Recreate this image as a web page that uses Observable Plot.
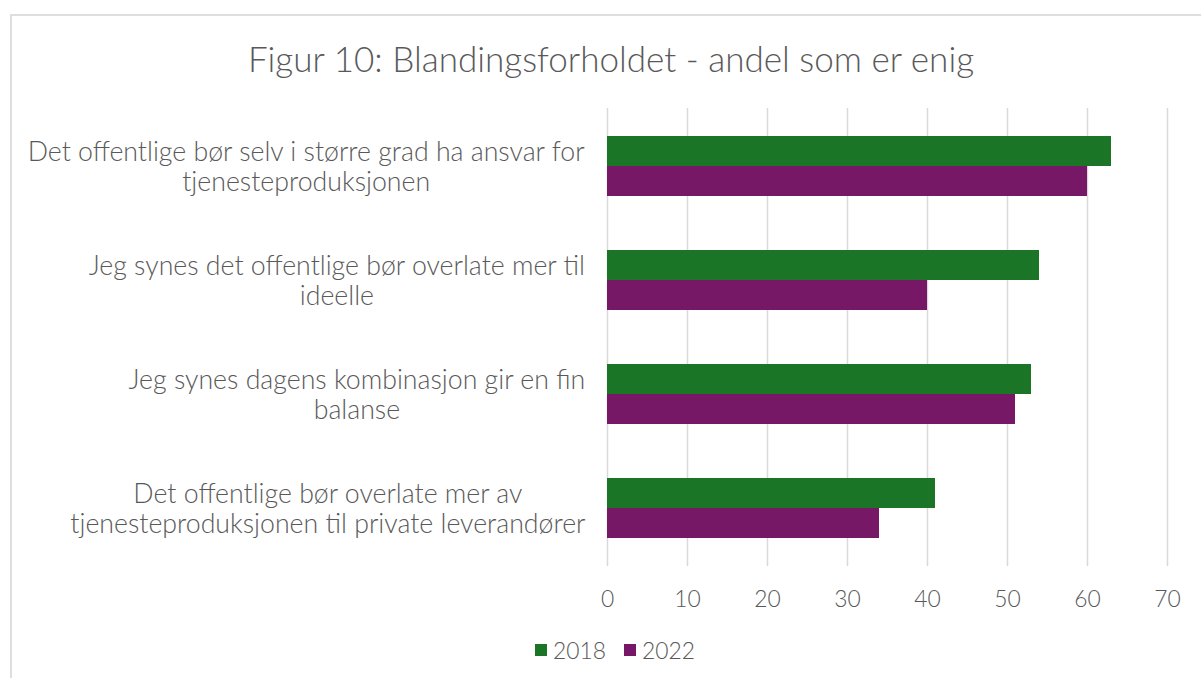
<!DOCTYPE html>
<html>
<head>
<meta charset="utf-8">
<script src="https://cdn.jsdelivr.net/npm/d3@7"></script>
<script src="https://cdn.jsdelivr.net/npm/@observablehq/plot@0.6"></script>
<style>
  html, body { margin: 0; padding: 0; background: #fff; }
  body { width: 1201px; height: 678px; overflow: hidden; position: relative; font-family: Lato, "Open Sans", sans-serif; font-weight: 300; color: #595959; }
  #frame { position: absolute; left: 10px; top: 14px; width: 1400px; height: 900px; border: 2px solid #dedede; box-sizing: border-box; }
  #title { position: absolute; left: 0; width: 1222px; text-align: center; line-height: 1; white-space: nowrap; }
  #chart { position: absolute; left: 0; top: 100px; }
  #legend { position: absolute; left: 0; width: 1230px; top: 639px; display: flex; justify-content: center; align-items: center; line-height: 1; }
  .item { display: flex; align-items: center; margin: 0 9px; }
  .sw { width: 12px; height: 12px; margin-right: 6px; }
  #chart svg text { font-weight: 300; }
</style>
</head>
<body>
<div id="frame"></div>
<div id="title"></div>
<div id="chart"></div>
<div id="legend"></div>
<script>
const titleText = "Figur 10: Blandingsforholdet - andel som er enig";
const categories = [
  "Det offentlige bør selv i større grad ha ansvar for\ntjenesteproduksjonen",
  "Jeg synes det offentlige bør overlate mer til\nideelle",
  "Jeg synes dagens kombinasjon gir en fin\nbalanse",
  "Det offentlige bør overlate mer av\ntjenesteproduksjonen til private leverandører"
];
const years = ["2018", "2022"];
const values2018 = [63, 54, 53, 41];
const values2022 = [60, 40, 51, 34];
const xTicks = [0, 10, 20, 30, 40, 50, 60, 70];
const colors = ["#1a7526", "#761866"];

const FONT = "Lato";
const ctx = document.createElement("canvas").getContext("2d");
function measure(t, size) { ctx.font = `300 ${size}px ${FONT}`; return ctx.measureText(t).width; }

const labelSize = 20 * 559 / measure("Det offentlige bør selv i større grad ha ansvar for", 20);
const titleSize = 20 * 728 / measure(titleText, 20);
const tickSize = 20 * 53 / measure("2018", 20);

const rows = [];
categories.forEach((c, i) => {
  rows.push({cat: c, year: years[0], value: values2018[i]});
  rows.push({cat: c, year: years[1], value: values2022[i]});
});

const title = document.getElementById("title");
title.textContent = titleText;
title.style.fontSize = titleSize + "px";
title.style.top = (72 - 0.887 * titleSize) + "px";

const marks = [
  Plot.ruleX(xTicks, {stroke: "#d9d9d9", strokeWidth: 1.5}),
  Plot.barX(rows.filter(d => d.year === years[0]), {x: "value", y: "cat", fill: "year", insetBottom: 30}),
  Plot.barX(rows.filter(d => d.year === years[1]), {x: "value", y: "cat", fill: "year", insetTop: 30})
];
categories.forEach(c => {
  const w = d3.max(c.split("\n"), l => measure(l, labelSize));
  marks.push(Plot.text([c], {
    y: d => d, text: d => d, frameAnchor: "left", textAnchor: "middle",
    dx: -22 - w / 2, fontSize: labelSize, lineHeight: 30 / labelSize, fill: "#595959"
  }));
});

const chart = Plot.plot({
  width: 1201,
  height: 520,
  marginTop: 8,
  marginBottom: 54,
  marginLeft: 607,
  marginRight: 34,
  style: {fontFamily: FONT, fontSize: tickSize + "px", color: "#595959", background: "transparent", overflow: "visible"},
  x: {domain: [0, 70], ticks: xTicks, tickSize: 0, tickPadding: 24, label: null},
  y: {domain: categories, paddingInner: 0.4755, paddingOuter: 0.236, axis: null},
  color: {domain: years, range: colors},
  marks
});
document.getElementById("chart").appendChild(chart);

const legend = document.getElementById("legend");
legend.style.fontSize = tickSize + "px";
years.forEach((y, i) => {
  const it = document.createElement("div");
  it.className = "item";
  const sw = document.createElement("div");
  sw.className = "sw";
  sw.style.background = colors[i];
  const tx = document.createElement("span");
  tx.textContent = y;
  it.appendChild(sw); it.appendChild(tx);
  legend.appendChild(it);
});
</script>
</body>
</html>
